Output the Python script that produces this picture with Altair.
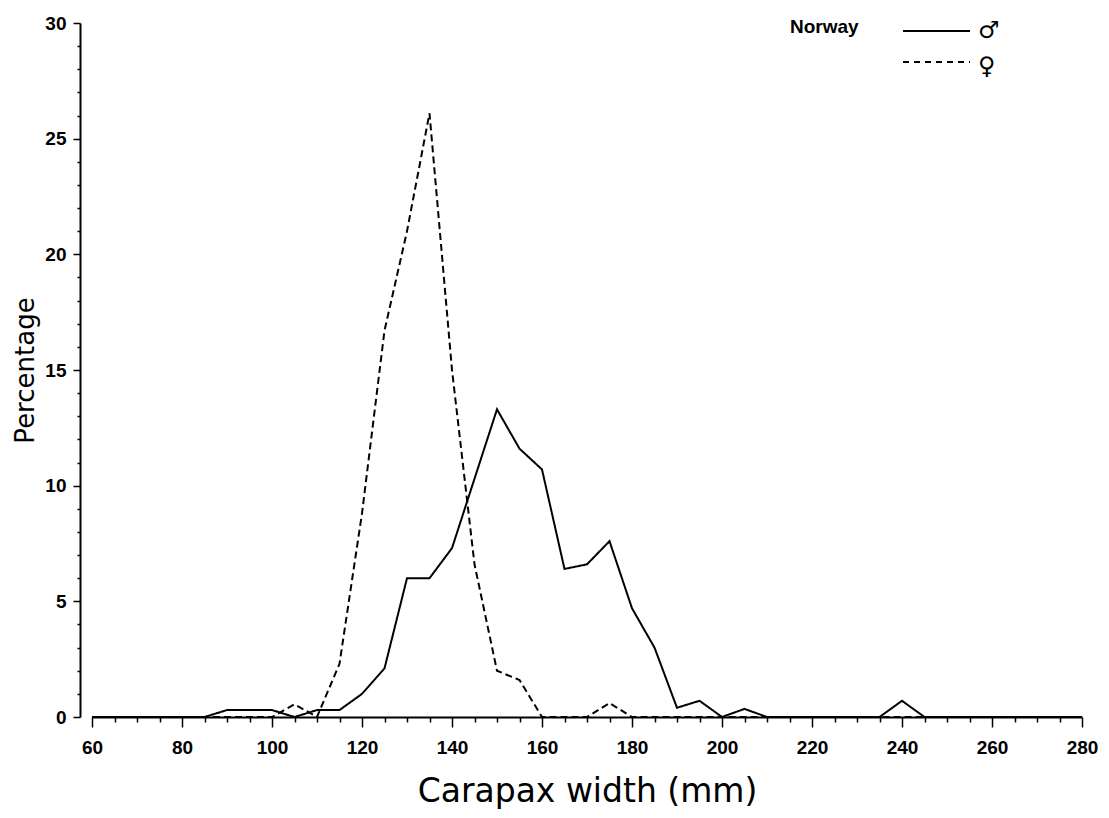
import altair as alt
import pandas as pd

# Carapax width classes (mm), 5 mm steps
widths = list(range(60, 285, 5))

# Percentage of males per width class
male_pct = [0, 0, 0, 0, 0, 0, 0.3, 0.3, 0.3, 0, 0.3, 0.3, 1.0, 2.1, 6.0, 6.0,
            7.3, 10.3, 13.3, 11.6, 10.7, 6.4, 6.6, 7.6, 4.7, 3.0, 0.4, 0.7, 0,
            0.35, 0, 0, 0, 0, 0, 0, 0.7, 0, 0, 0, 0, 0, 0, 0, 0]

# Percentage of females per width class
female_pct = [0, 0, 0, 0, 0, 0, 0, 0, 0, 0.55, 0, 2.3, 8.8, 16.7, 21.0, 26.1,
              15.0, 6.6, 2.0, 1.6, 0, 0, 0, 0.6, 0, 0, 0, 0, 0, 0, 0, 0, 0, 0,
              0, 0, 0, 0, 0, 0, 0, 0, 0, 0, 0]

sexes = ["male", "female"]
legend_title = "Norway"
legend_symbols = ["♂", "♀"]

df = pd.DataFrame({
    "width": widths * 2,
    "pct": male_pct + female_pct,
    "sex": [sexes[0]] * len(widths) + [sexes[1]] * len(widths),
})

W, H = 990, 694
TICK_FONT = "Liberation Sans"
TITLE_FONT = "DejaVu Sans"

x_axis = alt.Axis(
    values=list(range(60, 285, 5)),
    labelExpr="datum.value % 20 === 0 ? datum.label : ''",
    tickSize={"condition": {"test": "datum.value % 20 === 0", "value": 10}, "value": 5},
    tickColor="black", tickWidth=1.5,
    domainColor="black", domainWidth=2,
    labelFont=TICK_FONT, labelFontSize=19, labelFontWeight="bold", labelColor="black",
    labelPadding=11, labelOverlap=False, labelFlush=False,
    title="Carapax width (mm)", titleFont=TITLE_FONT, titleFontSize=33,
    titleFontWeight="normal", titleColor="black", titlePadding=18,
    grid=False,
)

y_axis = alt.Axis(
    values=list(range(0, 31)),
    labelExpr="datum.value % 5 === 0 ? datum.label : ''",
    tickSize={"condition": {"test": "datum.value % 5 === 0", "value": 7}, "value": 3},
    tickColor="black", tickWidth=1.5,
    domainColor="black", domainWidth=2,
    labelFont=TICK_FONT, labelFontSize=19, labelFontWeight="bold", labelColor="black",
    labelPadding=7, labelOverlap=False,
    title="Percentage", titleFont=TITLE_FONT, titleFontSize=26,
    titleFontWeight="normal", titleColor="black", titlePadding=6,
    offset=12, grid=False,
)

lines = alt.Chart(df).mark_line(color="black", strokeWidth=2).encode(
    x=alt.X("width:Q", scale=alt.Scale(domain=[60, 280], nice=False, zero=False), axis=x_axis),
    y=alt.Y("pct:Q", scale=alt.Scale(domain=[0, 30], nice=False), axis=y_axis),
    strokeDash=alt.StrokeDash(
        "sex:N",
        scale=alt.Scale(domain=sexes, range=[[1, 0], [7, 4]]),
        legend=None,
    ),
    detail="sex:N",
)

# Hand-drawn key in the top-right corner
key_title = alt.Chart(pd.DataFrame({"t": [legend_title]})).mark_text(
    align="left", baseline="middle", font=TICK_FONT, fontSize=19, fontWeight="bold", color="black"
).encode(text="t:N", x=alt.value(698), y=alt.value(4))

key_solid = alt.Chart(pd.DataFrame({"s": [sexes[0]]})).mark_rule(
    color="black", strokeWidth=2
).encode(x=alt.value(811), x2=alt.value(878), y=alt.value(8))

key_dash = alt.Chart(pd.DataFrame({"s": [sexes[1]]})).mark_rule(
    color="black", strokeWidth=2, strokeDash=[6, 5]
).encode(x=alt.value(811), x2=alt.value(878), y=alt.value(39))

key_male = alt.Chart(pd.DataFrame({"t": [legend_symbols[0]]})).mark_text(
    align="left", baseline="middle", font="DejaVu Sans", fontSize=24, color="black"
).encode(text="t:N", x=alt.value(886), y=alt.value(8))

key_female = alt.Chart(pd.DataFrame({"t": [legend_symbols[1]]})).mark_text(
    align="left", baseline="middle", font="DejaVu Sans", fontSize=24, color="black"
).encode(text="t:N", x=alt.value(886), y=alt.value(44))

chart = alt.layer(lines, key_title, key_solid, key_dash, key_male, key_female).properties(
    width=W, height=H,
    autosize=alt.AutoSizeParams(type="none"),
    padding={"left": 92, "top": 23, "right": 27, "bottom": 101},
    background="white",
).configure_view(stroke=None)

chart.save("out.html", embed_options={"renderer": "svg", "actions": False})
